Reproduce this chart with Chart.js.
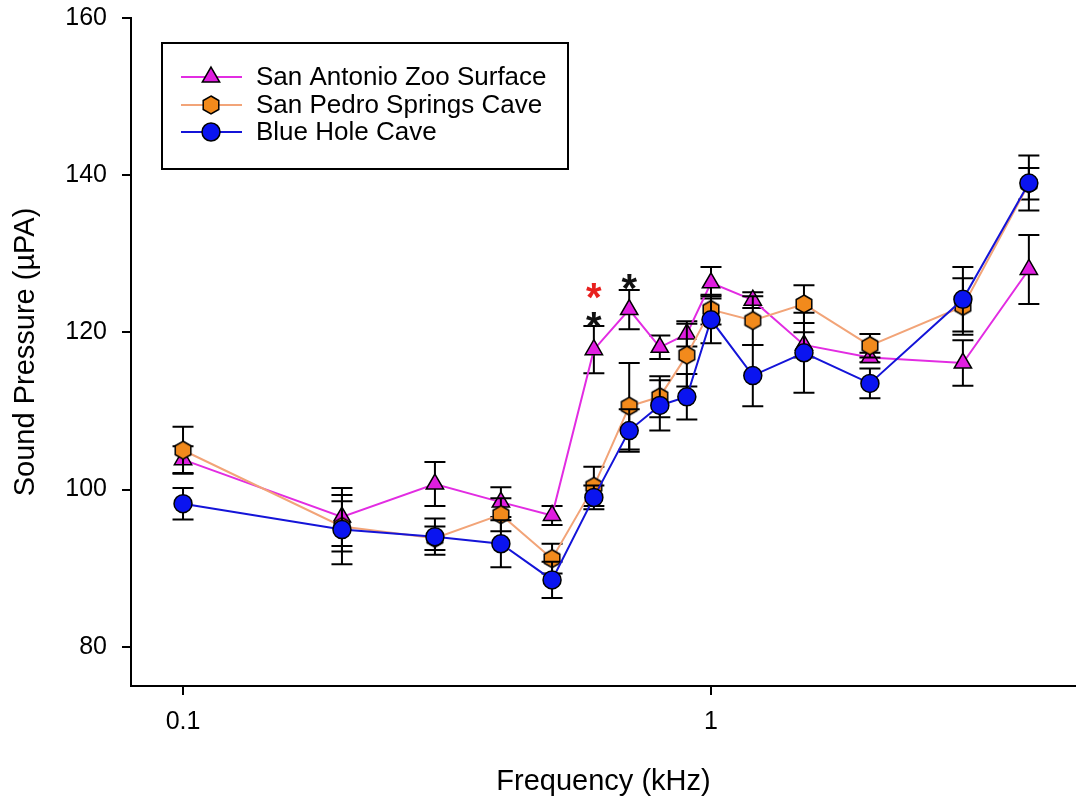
<!DOCTYPE html>
<html><head><meta charset="utf-8">
<script src="https://cdn.jsdelivr.net/npm/chart.js@4.4.1/dist/chart.umd.min.js"></script>
<style>html,body{margin:0;padding:0;background:#fff;}canvas{display:block;}</style>
</head><body>
<canvas id="c" width="1076" height="799"></canvas>
<script>
// ---- data ----
const frequencies = [0.1, 0.2, 0.3, 0.4, 0.5, 0.6, 0.7, 0.8, 0.9, 1, 1.2, 1.5, 2, 3, 4];
const seriesNames = ['San Antonio Zoo Surface', 'San Pedro Springs Cave', 'Blue Hole Cave'];
const zooMean   = [103.8, 96.5, 100.7, 98.4, 96.7, 117.8, 122.9, 118.1, 119.8, 126.3, 124.1, 118.4, 116.8, 116.1, 128.0];
const zooErr    = [1.7, 3.7, 2.8, 1.9, 1.2, 3.0, 2.5, 1.5, 1.6, 2.0, 1.0, 1.6, 0.6, 2.9, 4.4];
const pedroMean = [105.0, 95.3, 93.8, 96.8, 91.2, 100.4, 110.6, 111.8, 117.1, 122.9, 121.5, 123.6, 118.3, 123.3, 138.9];
const pedroErr  = [3.0, 3.2, 1.5, 2.1, 1.9, 2.5, 5.5, 2.6, 4.0, 1.9, 3.1, 2.4, 1.5, 3.6, 2.0];
const blueMean  = [98.2, 94.9, 94.0, 93.1, 88.5, 99.0, 107.5, 110.7, 111.8, 121.6, 114.5, 117.4, 113.5, 124.2, 139.0];
const blueErr   = [2.0, 4.4, 2.3, 3.0, 2.3, 1.5, 2.7, 3.2, 2.9, 3.0, 3.9, 5.1, 1.9, 4.1, 3.5];
const xTickValues = [0.1, 1];
const xTickLabels = ['0.1', '1'];
const yTickValues = [80, 100, 120, 140, 160];
const sigFreq  = [0.6, 0.6, 0.7];
const sigLevel = [121.6, 125.2, 126.4];

// ---- styles ----
const FONT = '"Liberation Sans", Arial, sans-serif';
Chart.defaults.font.family = FONT;
Chart.defaults.color = '#000';
const sigColors = ['#111', '#E8201E', '#111'];

function hexagonCanvas(r, fill) {
  const s = Math.ceil(2 * r + 4);
  const c = document.createElement('canvas');
  c.width = s; c.height = s;
  const g = c.getContext('2d');
  g.beginPath();
  for (let i = 0; i < 6; i++) {
    const a = (-90 + 60 * i) * Math.PI / 180;
    const px = s / 2 + r * Math.cos(a), py = s / 2 + r * Math.sin(a);
    if (i) g.lineTo(px, py); else g.moveTo(px, py);
  }
  g.closePath();
  g.fillStyle = fill; g.fill();
  g.lineWidth = 1.5; g.strokeStyle = '#000'; g.stroke();
  return c;
}
const hexImg = hexagonCanvas(9, '#F28A1C');

const styles = [
  {line: '#E22CE2', fill: '#E01EE0', pointStyle: 'triangle', radius: 10, order: 3},
  {line: '#F2A478', fill: '#F28A1C', pointStyle: hexImg, radius: 9, order: 2},
  {line: '#1414D8', fill: '#0A14F0', pointStyle: 'circle', radius: 9, order: 1}
];
const means = [zooMean, pedroMean, blueMean];
const errs = [zooErr, pedroErr, blueErr];

const datasets = seriesNames.map((name, k) => ({
  label: name,
  data: frequencies.map((f, i) => ({x: f, y: means[k][i]})),
  errors: errs[k],
  borderColor: styles[k].line,
  borderWidth: 2,
  backgroundColor: styles[k].fill,
  pointStyle: styles[k].pointStyle,
  pointRadius: styles[k].radius,
  pointHoverRadius: styles[k].radius,
  pointBackgroundColor: styles[k].fill,
  pointBorderColor: '#000',
  pointBorderWidth: 1.5,
  tension: 0,
  order: styles[k].order,
  clip: false
}));

const errorBars = {
  id: 'errorBars',
  beforeDatasetDraw(chart, args) {
    const ds = chart.data.datasets[args.index];
    if (!ds.errors) return;
    const xs = chart.scales.x, ys = chart.scales.y, ctx = chart.ctx;
    ctx.save();
    ctx.strokeStyle = '#000'; ctx.lineWidth = 2;
    ds.data.forEach((p, i) => {
      const e = ds.errors[i];
      const x = xs.getPixelForValue(p.x);
      const yt = ys.getPixelForValue(p.y + e), yb = ys.getPixelForValue(p.y - e);
      ctx.beginPath();
      ctx.moveTo(x, yt); ctx.lineTo(x, yb);
      ctx.moveTo(x - 10.5, yt); ctx.lineTo(x + 10.5, yt);
      ctx.moveTo(x - 10.5, yb); ctx.lineTo(x + 10.5, yb);
      ctx.stroke();
    });
    ctx.restore();
  }
};

const sigMarks = {
  id: 'sigMarks',
  afterDatasetsDraw(chart) {
    const xs = chart.scales.x, ys = chart.scales.y, ctx = chart.ctx;
    ctx.save();
    ctx.font = 'bold 40px ' + FONT;
    ctx.textAlign = 'center';
    ctx.textBaseline = 'alphabetic';
    const m = ctx.measureText('*');
    const off = (m.actualBoundingBoxAscent - m.actualBoundingBoxDescent) / 2;
    sigFreq.forEach((f, i) => {
      ctx.fillStyle = sigColors[i];
      ctx.fillText('*', xs.getPixelForValue(f), ys.getPixelForValue(sigLevel[i]) + off);
    });
    ctx.restore();
  }
};

const boxLegend = {
  id: 'boxLegend',
  afterDraw(chart) {
    const ctx = chart.ctx, a = chart.chartArea;
    const L = a.left + 31, T = a.top + 25, W = 406, H = 126;
    ctx.save();
    ctx.fillStyle = '#fff';
    ctx.fillRect(L, T, W, H);
    ctx.strokeStyle = '#000'; ctx.lineWidth = 2;
    ctx.strokeRect(L, T, W, H);
    const rows = [T + 34, T + 62, T + 89];
    chart.data.datasets.forEach((ds, k) => {
      const y = rows[k];
      ctx.strokeStyle = ds.borderColor; ctx.lineWidth = 2;
      ctx.beginPath(); ctx.moveTo(L + 19, y); ctx.lineTo(L + 80, y); ctx.stroke();
      ctx.fillStyle = ds.pointBackgroundColor; ctx.strokeStyle = '#000';
      ctx.lineWidth = 1.5;
      Chart.helpers.drawPoint(ctx, {pointStyle: ds.pointStyle, radius: ds.pointRadius, rotation: 0, borderWidth: 1.5}, L + 49, y);
      ctx.fillStyle = '#000';
      ctx.font = '26px ' + FONT;
      ctx.textAlign = 'left'; ctx.textBaseline = 'middle';
      ctx.fillText(ds.label, L + 94, y + 1);
    });
    ctx.restore();
  }
};

new Chart(document.getElementById('c'), {
  type: 'line',
  data: {datasets},
  options: {
    responsive: false,
    animation: false,
    devicePixelRatio: 1,
    layout: {autoPadding: false, padding: {top: 18, right: 0, bottom: 0, left: 0}},
    plugins: {legend: {display: false}, tooltip: {enabled: false}},
    scales: {
      x: {
        type: 'logarithmic',
        min: 0.0797, max: 4.913,
        afterBuildTicks: s => { s.ticks = xTickValues.map(v => ({value: v})); },
        afterFit: s => { s.height = 113; s.paddingLeft = 0; s.paddingRight = 0; },
        ticks: {callback: (v, i) => xTickLabels[i], autoSkip: false, maxRotation: 0, font: {size: 25}, color: '#000', padding: 12},
        grid: {display: true, drawOnChartArea: false, drawTicks: true, tickLength: 9, color: '#000', lineWidth: 2},
        border: {display: true, color: '#000', width: 2},
        title: {display: true, text: 'Frequency (kHz)', font: {size: 29}, color: '#000', padding: {top: 7, bottom: 0}}
      },
      y: {
        type: 'linear',
        min: 75, max: 160,
        afterBuildTicks: s => { s.ticks = yTickValues.map(v => ({value: v})); },
        afterFit: s => { s.width = 131; s.paddingTop = 0; s.paddingBottom = 0; },
        ticks: {font: {size: 25}, color: '#000', padding: 15},
        grid: {display: true, drawOnChartArea: false, drawTicks: true, tickLength: 9, color: '#000', lineWidth: 2},
        border: {display: true, color: '#000', width: 2},
        title: {display: true, text: 'Sound Pressure (µPA)', font: {size: 29}, color: '#000', padding: {top: 9, bottom: 0}}
      }
    }
  },
  plugins: [errorBars, sigMarks, boxLegend]
});
</script>
</body></html>
